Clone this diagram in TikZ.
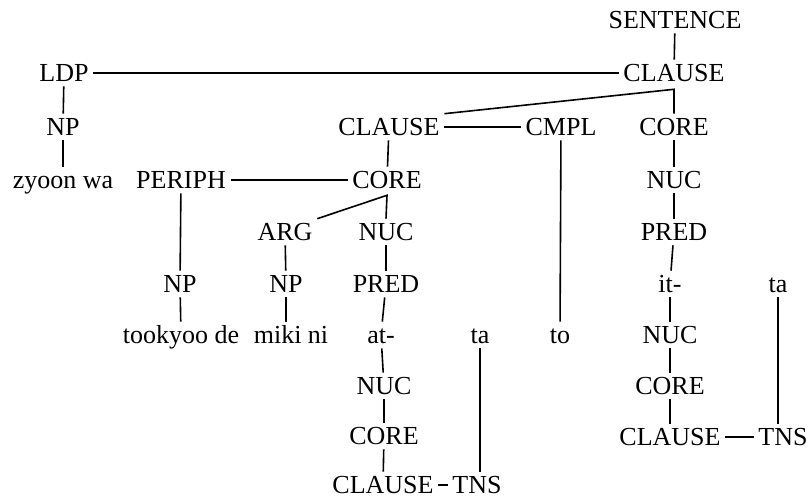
\documentclass[tikz,border=0pt]{standalone}
\usepackage{fontspec}
\setmainfont{Liberation Serif}
\begin{document}
\begin{tikzpicture}[x=1pt,y=-1pt,
  lbl/.style={inner sep=4pt, text height=17pt, text depth=0pt, font=\fontsize{26}{30}\selectfont},
  every path/.style={line width=1.6pt}]
\useasboundingbox (0,0) rectangle (812,500);
% nodes
\node[lbl] (sent) at (675,20) {SENTENCE};
\node[lbl] (cl1) at (674,73) {CLAUSE};
\node[lbl] (ldp) at (64,73) {LDP};
\node[lbl] (np1) at (63,127) {NP};
\node[lbl] (zw) at (63,180) {zyoon wa};
\node[lbl] (cl2) at (389,127) {CLAUSE};
\node[lbl] (cmpl) at (561,127) {CMPL};
\node[lbl] (coreR) at (674,127) {CORE};
\node[lbl] (periph) at (181,180) {PERIPH};
\node[lbl] (coreM) at (387,180) {CORE};
\node[lbl] (nucR) at (674,180) {NUC};
\node[lbl] (arg) at (285,232) {ARG};
\node[lbl] (nucM) at (386,232) {NUC};
\node[lbl] (predR) at (674,232) {PRED};
\node[lbl] (np2) at (180,284) {NP};
\node[lbl] (np3) at (286,284) {NP};
\node[lbl] (predM) at (386,284) {PRED};
\node[lbl] (itR) at (670,284) {it-};
\node[lbl] (taR) at (778,284) {ta};
\node[lbl] (took) at (181,335) {tookyoo de};
\node[lbl] (miki) at (291,335) {miki ni};
\node[lbl] (atM) at (381,335) {at-};
\node[lbl] (taM) at (480,335) {ta};
\node[lbl] (to) at (560,335) {to};
\node[lbl] (nucR2) at (670,335) {NUC};
\node[lbl] (nucM2) at (384,386) {NUC};
\node[lbl] (coreR2) at (670,386) {CORE};
\node[lbl] (coreM2) at (384,436) {CORE};
\node[lbl] (clR) at (670,437) {CLAUSE};
\node[lbl] (tnsR) at (783,437) {TNS};
\node[lbl] (clM) at (383,485) {CLAUSE};
\node[lbl] (tnsM) at (477,485) {TNS};
% connectors
\draw (sent) -- (cl1);
\draw (ldp) -- (cl1);
\draw (ldp) -- (np1);
\draw (np1) -- (zw);
\draw (cl2.north east) -- ([yshift=-3pt]cl1.south) -- (coreR.north);
\draw (cl2) -- (cmpl);
\draw (cl2) -- (coreM);
\draw (cmpl) -- (to);
\draw (coreR) -- (nucR);
\draw (nucR) -- (predR);
\draw (predR) -- (itR);
\draw (itR) -- (nucR2);
\draw (nucR2) -- (coreR2);
\draw (coreR2) -- (clR);
\draw (clR) -- (tnsR);
\draw (taR.south) -- (taR.south |- tnsR.north);
\draw (periph) -- (coreM);
\draw (periph) -- (np2);
\draw (np2) -- (took);
\draw (arg.north east) -- ([yshift=-2pt]coreM.south) -- (nucM.north);
\draw (arg) -- (np3);
\draw (np3.south) -- (np3.south |- miki.north);
\draw (nucM) -- (predM);
\draw (predM) -- (atM);
\draw (atM) -- (nucM2);
\draw (nucM2) -- (coreM2);
\draw (coreM2) -- (clM);
\draw (clM) -- (tnsM);
\draw (taM.south) -- (taM.south |- tnsM.north);
\end{tikzpicture}
\end{document}
